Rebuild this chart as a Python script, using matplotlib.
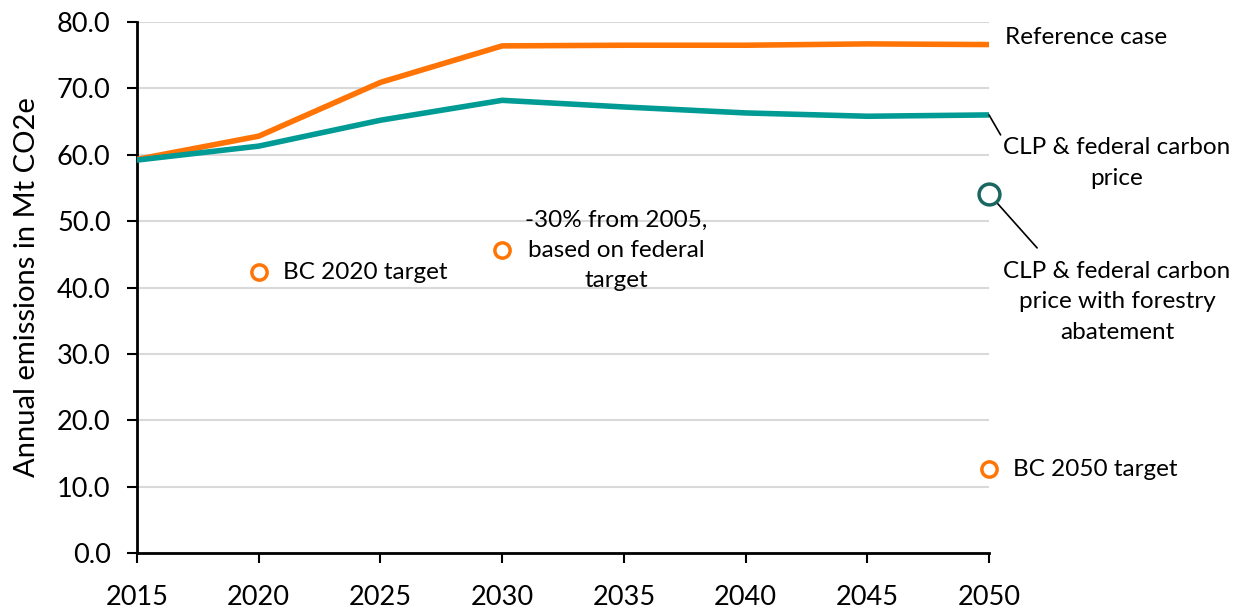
import matplotlib
matplotlib.use("Agg")
import matplotlib.pyplot as plt

plt.rcParams['font.family'] = ['Lato', 'DejaVu Sans']

years = [2015, 2020, 2025, 2030, 2035, 2040, 2045, 2050]
reference_case = [59.3, 62.8, 70.9, 76.4, 76.5, 76.5, 76.7, 76.6]
clp_federal = [59.2, 61.3, 65.2, 68.2, 67.2, 66.3, 65.8, 66.0]

target_years = [2020, 2030, 2050]
target_values = [42.3, 45.6, 12.6]
forestry_year = 2050
forestry_value = 54.1

orange = '#FF7404'
teal = '#009B94'
dark_teal = '#1A6660'

fig = plt.figure(figsize=(12.43, 6.11), dpi=100)
ax = fig.add_axes([137 / 1243, 58 / 611, (989 - 137) / 1243, (553 - 22) / 611])

ax.plot(years, reference_case, color=orange, lw=4, solid_capstyle='round', zorder=3)
ax.plot(years, clp_federal, color=teal, lw=4, solid_capstyle='round', zorder=3)
ax.plot(target_years, target_values, 'o', ms=11, mfc='white', mec=orange, mew=2.5,
        ls='none', zorder=4, clip_on=False)
ax.plot([forestry_year], [forestry_value], 'o', ms=15, mfc='white', mec=dark_teal, mew=2.5,
        ls='none', zorder=4, clip_on=False)

ax.set_xlim(2015, 2050)
ax.set_ylim(0, 80)
ax.set_xticks(range(2015, 2051, 5))
ax.set_yticks(range(0, 81, 10))
ax.set_yticklabels([f'{v:.1f}' for v in range(0, 81, 10)])
ax.tick_params(axis='both', labelsize=19.5, length=7, width=1.5, color='black')
ax.tick_params(axis='x', pad=16)
ax.tick_params(axis='y', pad=12)
ax.grid(axis='y', color='#D9D9D9', lw=1.5)
ax.set_axisbelow(True)
for s in ['top', 'right']:
    ax.spines[s].set_visible(False)
for s in ['left', 'bottom']:
    ax.spines[s].set_linewidth(2)
ax.set_ylabel('Annual emissions in Mt CO2e', fontsize=21, labelpad=12)

fs = 17.5
ls = 1.55
ax.annotate('Reference case', xy=(2050, reference_case[-1]), xytext=(16, 7),
            textcoords='offset pixels', fontsize=fs, va='center', ha='left',
            annotation_clip=False)
ax.annotate('CLP & federal carbon\nprice', xy=(2050, clp_federal[-1]),
            xytext=(1117 - 989, -(163 - 115)), textcoords='offset pixels',
            fontsize=fs, ha='center', va='center', annotation_clip=False,
            linespacing=ls,
            arrowprops=dict(arrowstyle='-', color='black', lw=1.2,
                            shrinkA=0, shrinkB=0, relpos=(0.02, 0.8)))
ax.annotate('CLP & federal carbon\nprice with forestry\nabatement', xy=(2050, forestry_value),
            xytext=(1117 - 989, -(302 - 194)), textcoords='offset pixels',
            fontsize=fs, ha='center', va='center', annotation_clip=False,
            linespacing=ls,
            arrowprops=dict(arrowstyle='-', color='black', lw=1.2,
                            shrinkA=10, shrinkB=0, relpos=(0.2, 1.0)))
ax.annotate('BC 2050 target', xy=(2050, target_values[2]), xytext=(24, 0),
            textcoords='offset pixels', fontsize=fs, va='center', ha='left',
            annotation_clip=False)
ax.annotate('BC 2020 target', xy=(2020, target_values[0]), xytext=(24, 0),
            textcoords='offset pixels', fontsize=fs, va='center', ha='left')
ax.annotate('-30% from 2005,\nbased on federal\ntarget', xy=(2030, target_values[1]),
            xytext=(617 - 503, 0), textcoords='offset pixels', fontsize=fs,
            va='center', ha='center', linespacing=ls)

fig.savefig('out.png', dpi=100)
